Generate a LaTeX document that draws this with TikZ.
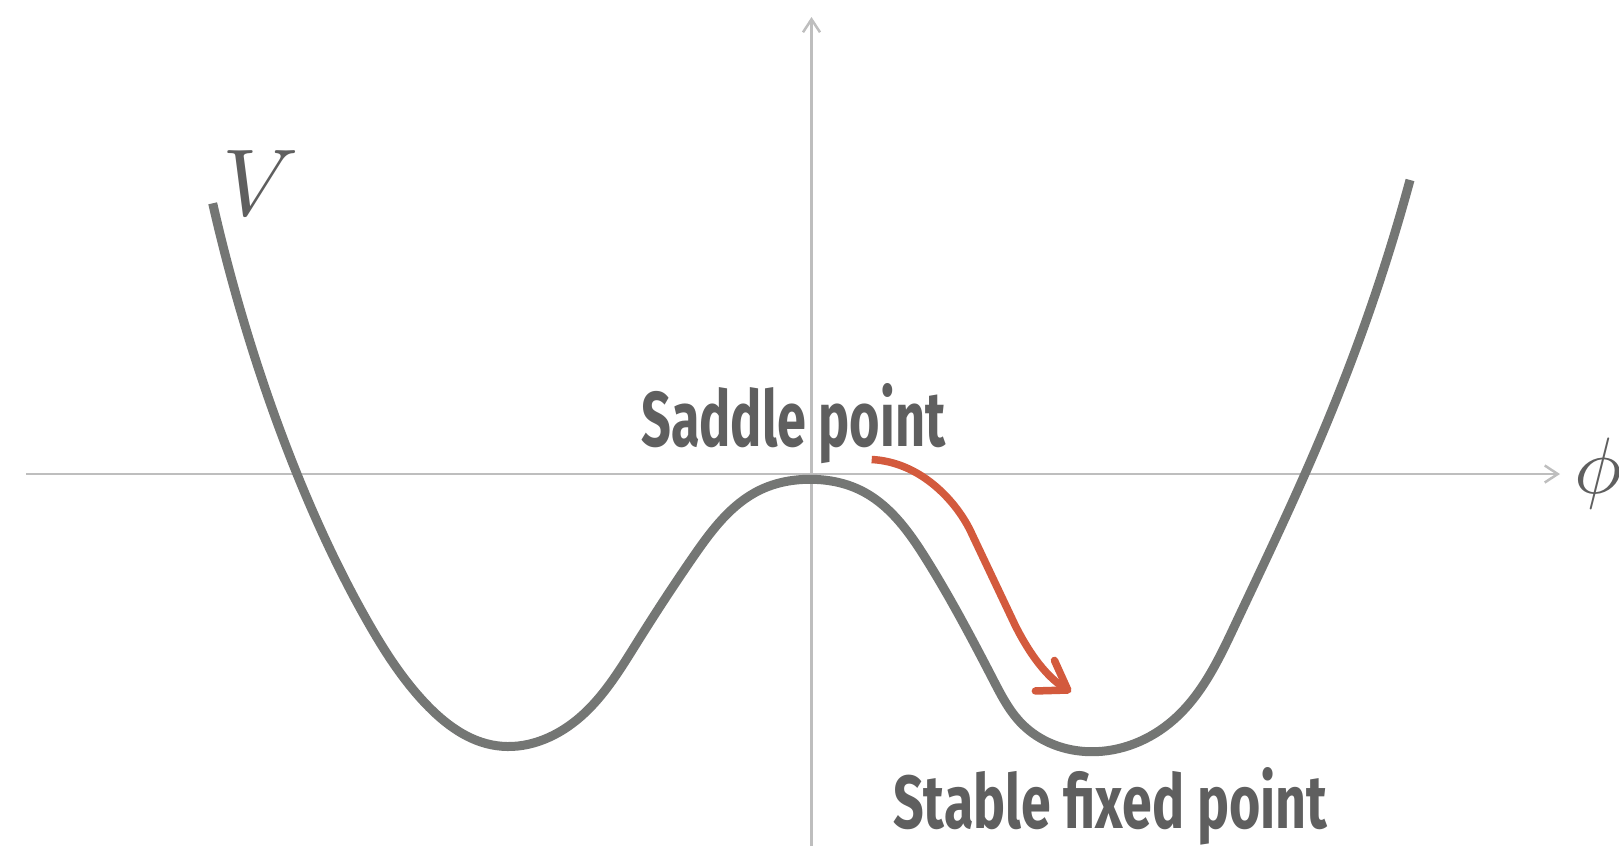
\documentclass[tikz,border=0pt]{standalone}
\usepackage{fontspec}
\usepackage{graphicx}
\usetikzlibrary{arrows.meta,hobby}
\newfontfamily\labelfont{Fira Sans}
\definecolor{curvegray}{RGB}{116,118,116}
\definecolor{axisgray}{RGB}{190,190,190}
\definecolor{textgray}{RGB}{95,95,95}
\definecolor{flowred}{RGB}{211,90,61}
\begin{document}
\begin{tikzpicture}[x=1pt,y=-1pt,
  axis/.style={draw=axisgray, line width=2.5pt, -{Straight Barb[length=13pt,width=17pt,line width=2.5pt]}},
  potential/.style={draw=curvegray, line width=9pt},
  flow/.style={draw=flowred, line width=7.5pt, -{Straight Barb[length=27pt,width=36pt,line width=7.5pt,round]}},
  label/.style={inner sep=0pt, text=textgray, font=\labelfont\bfseries},
  symb/.style={inner sep=0pt, text=textgray}]
\useasboundingbox (0,0) rectangle (1619,846);
\coordinate (xs) at (26,474);
\coordinate (xe) at (1560,474);
\coordinate (ys) at (811.5,846);
\coordinate (ye) at (811.5,17);
\draw[axis] (xs) -- (xe);
\draw[axis] (ys) -- (ye);
\draw[potential, use Hobby shortcut]
(212.7,203.3) .. (243.3,320) .. (296.7,473.3) .. (366.7,620) .. (425,703)
.. (496.7,745.7) .. (576.7,720) .. (636.7,643) .. (693.3,556.7)
.. (760,490) .. (811.7,479.3) .. (860,490) .. (926.7,560) .. (993.3,680)
.. (1022,724) .. (1090,751.7) .. (1173.3,720) .. (1235,625)
.. (1306.7,470) .. (1356.7,346.7) .. (1410,180);
\coordinate (fs) at (871.7,459.5);
\coordinate (fa) at (970,530);
\coordinate (fb) at (1015,625);
\coordinate (fe) at (1071,692);
\draw[flow] (fs) .. controls (920,462) and (955,500) .. (fa) -- (fb) .. controls (1030,655) and (1047,677) .. (fe);
\node[label, anchor=base west] (saddle) at (641,446.7) {\resizebox{304pt}{63pt}{Saddle point}};
\node[label, anchor=base west] (stable) at (893,828.3) {\resizebox{434pt}{61pt}{Stable fixed point}};
\node[symb, anchor=base west] (vlab) at (222,215) {\scalebox{9.5}{$V$}};
\node[symb, anchor=base west] (philab) at (1574,493) {\scalebox{8}{$\phi$}};
\end{tikzpicture}
\end{document}
